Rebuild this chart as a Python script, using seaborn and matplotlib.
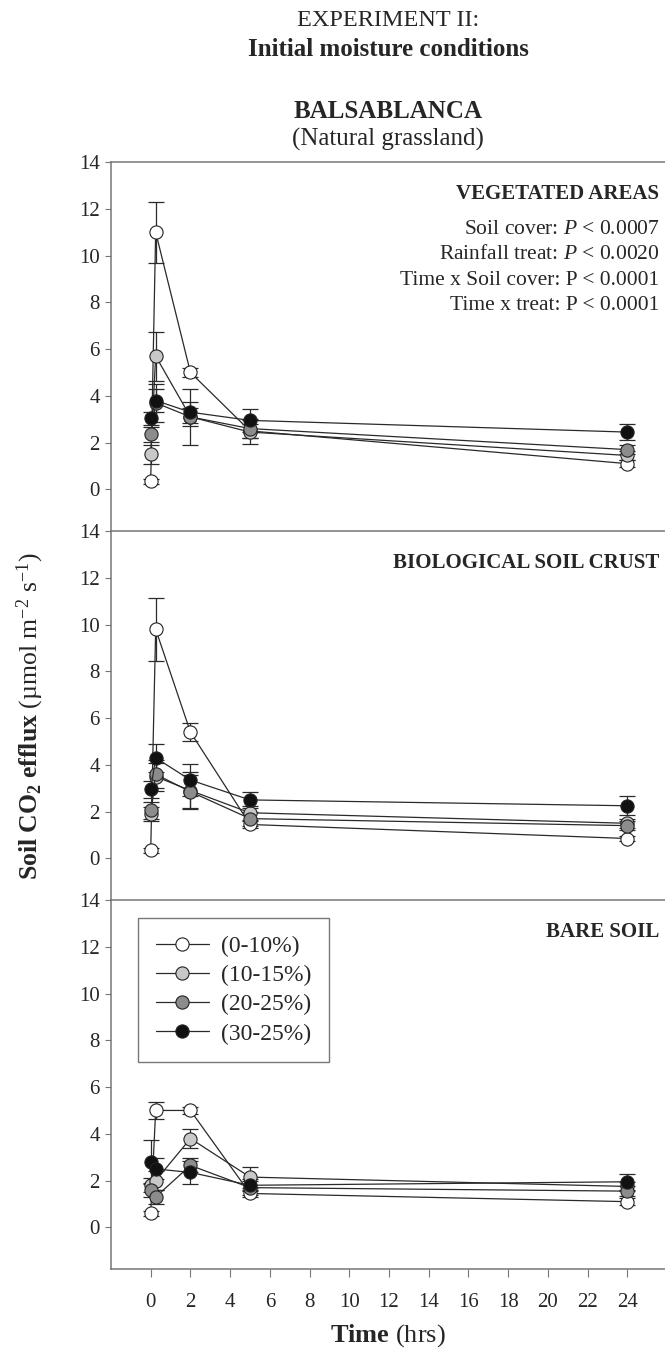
import matplotlib
matplotlib.use("Agg")
import matplotlib.pyplot as plt
import seaborn as sns
import pandas as pd
import numpy as np

# ---------------- data ----------------
times = [0, 0.25, 2, 5, 24]
treatments = ["(0-10%)", "(10-15%)", "(20-25%)", "(30-25%)"]
panel_titles = ["VEGETATED AREAS", "BIOLOGICAL SOIL CRUST", "BARE SOIL"]

veg_0_10 = [0.35, 11.0, 5.0, 2.5, 1.1]
veg_10_15 = [1.5, 5.7, 3.1, 2.45, 1.45]
veg_20_25 = [2.35, 3.7, 3.1, 2.6, 1.7]
veg_30_25 = [3.05, 3.8, 3.3, 2.95, 2.45]
veg_err_0_10 = [0.1, 1.3, 0.2, 0.3, 0.15]
veg_err_10_15 = [0.4, 1.05, 1.2, 0.5, 0.2]
veg_err_20_25 = [0.33, 0.8, 0.4, 0.4, 0.2]
veg_err_30_25 = [0.28, 0.5, 0.45, 0.5, 0.35]

bsc_0_10 = [0.35, 9.8, 5.4, 1.45, 0.85]
bsc_10_15 = [1.9, 3.5, 2.9, 1.95, 1.5]
bsc_20_25 = [2.05, 3.6, 2.85, 1.7, 1.4]
bsc_30_25 = [2.95, 4.3, 3.35, 2.5, 2.25]
bsc_err_0_10 = [0.1, 1.35, 0.4, 0.15, 0.1]
bsc_err_10_15 = [0.3, 0.6, 0.8, 0.3, 0.2]
bsc_err_20_25 = [0.35, 0.6, 0.7, 0.3, 0.2]
bsc_err_30_25 = [0.35, 0.6, 0.7, 0.35, 0.4]

bare_0_10 = [0.6, 5.0, 5.0, 1.45, 1.1]
bare_10_15 = [1.8, 2.0, 3.8, 2.15, 1.75]
bare_20_25 = [1.6, 1.3, 2.65, 1.7, 1.55]
bare_30_25 = [2.8, 2.5, 2.35, 1.8, 1.95]
bare_err_0_10 = [0.1, 0.35, 0.15, 0.15, 0.15]
bare_err_10_15 = [0.3, 0.4, 0.4, 0.45, 0.2]
bare_err_20_25 = [0.3, 0.3, 0.3, 0.3, 0.2]
bare_err_30_25 = [0.95, 0.45, 0.5, 0.25, 0.35]

stats_lines = [
    r"Soil cover: $P$ < 0.0007",
    r"Rainfall treat: $P$ < 0.0020",
    "Time x Soil cover: P < 0.0001",
    "Time x treat: P < 0.0001",
]
y_ticks = [0, 2, 4, 6, 8, 10, 12, 14]
x_ticks = list(range(0, 25, 2))

panels = [
    ([veg_0_10, veg_10_15, veg_20_25, veg_30_25],
     [veg_err_0_10, veg_err_10_15, veg_err_20_25, veg_err_30_25]),
    ([bsc_0_10, bsc_10_15, bsc_20_25, bsc_30_25],
     [bsc_err_0_10, bsc_err_10_15, bsc_err_20_25, bsc_err_30_25]),
    ([bare_0_10, bare_10_15, bare_20_25, bare_30_25],
     [bare_err_0_10, bare_err_10_15, bare_err_20_25, bare_err_30_25]),
]

# ---------------- style ----------------
sns.set_style("white")
plt.rcParams["font.family"] = ["Liberation Serif", "DejaVu Serif"]
plt.rcParams["mathtext.fontset"] = "custom"
plt.rcParams["mathtext.rm"] = "Liberation Serif"
plt.rcParams["mathtext.it"] = "Liberation Serif:italic"
plt.rcParams["mathtext.bf"] = "Liberation Serif:bold"

face_colors = ["#ffffff", "#c8c8c8", "#8c8c8c", "#111111"]
line_color = "#2a2a2a"
spine_color = "#777777"

W, H = 665, 1363
fig = plt.figure(figsize=(W / 100, H / 100), dpi=100)

left_px, right_px = 111, 665
tops_px = [162, 531, 900]
panel_h = 369

axes = []
for i, top in enumerate(tops_px):
    ax = fig.add_axes([left_px / W, 1 - (top + panel_h) / H,
                       (right_px - left_px) / W, panel_h / H])
    ax.set_facecolor("none")
    axes.append(ax)

tick_fs = 15
for i, ax in enumerate(axes):
    means, errs = panels[i]
    for j in range(4):
        df = pd.DataFrame({"time": times, "flux": means[j]})
        ax.errorbar(times, means[j], yerr=errs[j], fmt="none",
                    ecolor=line_color, elinewidth=0.9, capsize=5.5,
                    capthick=0.9, zorder=2 + j * 0.1)
        sns.lineplot(data=df, x="time", y="flux", ax=ax, color=line_color,
                     linewidth=0.9, marker="o", markersize=9.5,
                     markerfacecolor=face_colors[j], markeredgecolor="#222222",
                     markeredgewidth=0.8, label=treatments[j],
                     zorder=3 + j * 0.1, legend=False)
    ax.set_xlim(-2, 25.9)
    ax.set_ylim(-1.78, 14)
    ax.set_yticks(y_ticks)
    ax.set_yticklabels([str(t) for t in y_ticks], fontsize=tick_fs)
    ax.set_xlabel("")
    ax.set_ylabel("")
    ax.tick_params(axis="y", direction="out", length=4, width=0.8,
                   color=spine_color, left=True, pad=4)
    for s in ["left", "right", "top", "bottom"]:
        ax.spines[s].set_color(spine_color)
        ax.spines[s].set_linewidth(1.1)
        ax.spines[s].set_zorder(5)
    ax.spines["right"].set_visible(False)
    ax.spines["top"].set_visible(i == 0)
    if i < 2:
        ax.set_xticks([])
    else:
        ax.set_xticks(x_ticks)
        ax.set_xticklabels([str(t) for t in x_ticks], fontsize=tick_fs)
        ax.tick_params(axis="x", direction="out", length=6, width=0.8,
                       color=spine_color, bottom=True, pad=11)
    ax.text(0.99, 0.913, panel_titles[i], transform=ax.transAxes,
            ha="right", va="center", fontsize=15, fontweight="bold")

# statistics text in top panel
for k, line in enumerate(stats_lines):
    axes[0].text(0.99, 0.816 - k * 0.068, line, transform=axes[0].transAxes,
                 ha="right", va="center", fontsize=15.5)

# legend in bottom panel
handles, labels = axes[2].get_legend_handles_labels()
leg = axes[2].legend(handles, labels, loc="upper left",
                     bbox_to_anchor=(0.049, 0.951), borderaxespad=0,
                     fontsize=17, frameon=True, fancybox=False,
                     handlelength=2.25, handletextpad=0.5,
                     labelspacing=0.32, borderpad=0.75)
leg.get_frame().set_edgecolor("#555555")
leg.get_frame().set_linewidth(1.0)

# titles
cx = (left_px + right_px) / 2 / W
fig.text(cx, 1 - 21 / H, "EXPERIMENT II:", ha="center", va="center", fontsize=17.5)
fig.text(cx, 1 - 50 / H, "Initial moisture conditions", ha="center",
         va="center", fontsize=18, fontweight="bold")
fig.text(cx, 1 - 112 / H, "BALSABLANCA", ha="center", va="center",
         fontsize=18, fontweight="bold")
fig.text(cx, 1 - 139 / H, "(Natural grassland)", ha="center", va="center",
         fontsize=18)

# y label
fig.text(30 / W, 1 - 716 / H,
         r"$\mathbf{Soil\ CO_2\ efflux}$ (µmol m$^{-2}$ s$^{-1}$)",
         rotation=90, ha="center", va="center", fontsize=18.5)

# x label
fig.text(cx, 1 - 1336 / H, r"$\mathbf{Time}$ (hrs)", ha="center",
         va="center", fontsize=19)

fig.savefig("out.png", dpi=100, facecolor="white")
